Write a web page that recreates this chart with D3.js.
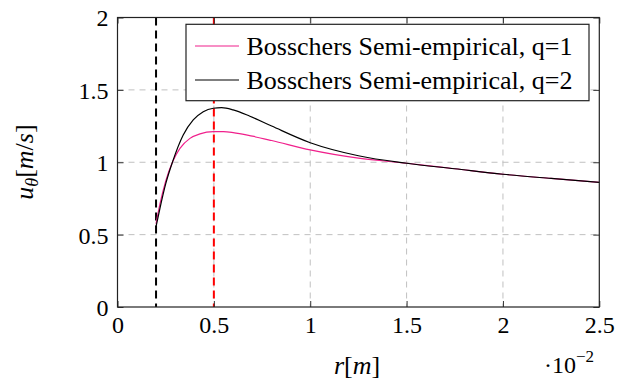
<!DOCTYPE html>
<html>
<head>
<meta charset="utf-8">
<script src="https://cdn.jsdelivr.net/npm/d3@7"></script>
<style>
  html, body { margin: 0; padding: 0; background: #fff; }
  svg { display: block; }
  text { font-family: "Liberation Serif", "Times New Roman", "DejaVu Serif", serif; fill: #000; }
</style>
</head>
<body>
<svg id="chart" width="617" height="380"></svg>
<script>
// Radius samples [m] and tangential velocity [m/s] for both model variants
const rQ1 = [0.0020, 0.0022, 0.0025, 0.00286, 0.00324, 0.00376, 0.00428, 0.00497, 0.0055, 0.0060, 0.0070, 0.0080, 0.0100, 0.0125, 0.0150, 0.0175, 0.0200, 0.0225, 0.0250];
const uQ1 = [0.575, 0.71, 0.87, 1.004, 1.096, 1.165, 1.196, 1.211, 1.211, 1.205, 1.180, 1.150, 1.085, 1.028, 0.993, 0.955, 0.917, 0.888, 0.861];

const rQ2 = [0.0020, 0.0022, 0.0025, 0.00286, 0.00341, 0.00393, 0.00445, 0.00497, 0.0054, 0.0060, 0.00687, 0.0080, 0.0100, 0.0125, 0.0150, 0.0175, 0.0200, 0.0225, 0.0250];
const uQ2 = [0.555, 0.68, 0.85, 1.004, 1.188, 1.292, 1.349, 1.373, 1.377, 1.362, 1.318, 1.250, 1.135, 1.045, 0.993, 0.955, 0.917, 0.888, 0.861];

// Reference radii marked with vertical dashed lines
const markerR = [0.002, 0.005];

const xTicks = [0, 0.005, 0.01, 0.015, 0.02, 0.025];
const xTickLabels = ["0", "0.5", "1", "1.5", "2", "2.5"];
const yTicks = [0, 0.5, 1, 1.5, 2];
const yTickLabels = ["0", "0.5", "1", "1.5", "2"];

const seriesNames = ["Bosschers Semi-empirical, q=1", "Bosschers Semi-empirical, q=2"];
const seriesColors = ["#f0208c", "#000000"];

const svg = d3.select("#chart");
const pL = 117.5, pR = 599.3, pT = 17.5, pB = 307;
const fontTick = 24;

const x = d3.scaleLinear().domain([0, 0.025]).range([pL, pR]);
const y = d3.scaleLinear().domain([0, 2]).range([pB, pT]);

// Grid
const grid = svg.append("g").attr("stroke", "#c0c0c0").attr("stroke-width", 1)
  .attr("stroke-dasharray", "6,5").attr("fill", "none");
grid.selectAll("line.gx").data(xTicks.slice(1, -1)).join("line").attr("class", "gx")
  .attr("x1", d => x(d)).attr("x2", d => x(d)).attr("y1", pT).attr("y2", pB);
grid.selectAll("line.gy").data(yTicks.slice(1, -1)).join("line").attr("class", "gy")
  .attr("x1", pL).attr("x2", pR).attr("y1", d => y(d)).attr("y2", d => y(d));

// Vertical dashed markers
const markerColors = ["#000000", "#ff0000"];
svg.append("g").selectAll("line").data(markerR).join("line")
  .attr("x1", d => x(d)).attr("x2", d => x(d)).attr("y1", pT).attr("y2", pB)
  .attr("stroke", (d, i) => markerColors[i]).attr("stroke-width", 2)
  .attr("stroke-dasharray", "8,5");

// Curves
const line = d3.line().x(d => x(d[0])).y(d => y(d[1])).curve(d3.curveMonotoneX);
const series = [d3.zip(rQ1, uQ1), d3.zip(rQ2, uQ2)];
svg.append("g").selectAll("path").data(series).join("path")
  .attr("d", line).attr("fill", "none")
  .attr("stroke", (d, i) => seriesColors[i]).attr("stroke-width", 1.2);

// Axes with inward ticks on all sides
const tl = 6;
const fmtX = (d, i) => xTickLabels[i];
const fmtY = (d, i) => yTickLabels[i];
const gB = svg.append("g").attr("transform", `translate(0,${pB})`)
  .call(d3.axisBottom(x).tickValues(xTicks).tickFormat(fmtX).tickSize(-tl).tickPadding(9));
const gT = svg.append("g").attr("transform", `translate(0,${pT})`)
  .call(d3.axisTop(x).tickValues(xTicks).tickFormat("").tickSize(-tl));
const gL = svg.append("g").attr("transform", `translate(${pL},0)`)
  .call(d3.axisLeft(y).tickValues(yTicks).tickFormat(fmtY).tickSize(-tl).tickPadding(9));
const gR = svg.append("g").attr("transform", `translate(${pR},0)`)
  .call(d3.axisRight(y).tickValues(yTicks).tickFormat("").tickSize(-tl));
[gB, gT, gL, gR].forEach(g => {
  g.attr("font-family", null).attr("font-size", null);
  g.select(".domain").remove();
  g.selectAll(".tick line").attr("stroke", "#333").attr("stroke-width", 1);
  g.selectAll("text").attr("font-size", fontTick).attr("fill", "#000");
});
gL.selectAll(".tick text").attr("dy", "0.35em");

// Frame
svg.append("rect").attr("x", pL).attr("y", pT)
  .attr("width", pR - pL).attr("height", pB - pT)
  .attr("fill", "none").attr("stroke", "#222").attr("stroke-width", 1.2);

// Legend
const lg = svg.append("g");
lg.append("rect").attr("x", 186).attr("y", 24.3).attr("width", 403).attr("height", 76.4)
  .attr("fill", "#fff").attr("stroke", "#222").attr("stroke-width", 1.2);
seriesNames.forEach((name, i) => {
  const cy = 46 + i * 34;
  lg.append("line").attr("x1", 195).attr("x2", 239).attr("y1", cy).attr("y2", cy)
    .attr("stroke", seriesColors[i]).attr("stroke-width", 1.2);
  lg.append("text").attr("x", 246.5).attr("y", cy + 8.5).attr("font-size", 26).text(name);
});

// Axis labels
const yl = svg.append("text").attr("transform", "translate(33,162) rotate(-90)")
  .attr("text-anchor", "middle").attr("font-size", 26);
yl.append("tspan").attr("font-style", "italic").text("u");
yl.append("tspan").attr("font-style", "italic").attr("font-size", 18).attr("dy", 5).text("θ");
yl.append("tspan").attr("dy", -5).text("[");
yl.append("tspan").attr("font-style", "italic").text("m");
yl.append("tspan").text("/");
yl.append("tspan").attr("font-style", "italic").text("s");
yl.append("tspan").text("]");

const xl = svg.append("text").attr("x", 357).attr("y", 374)
  .attr("text-anchor", "middle").attr("font-size", 26);
xl.append("tspan").attr("font-style", "italic").text("r");
xl.append("tspan").text("[");
xl.append("tspan").attr("font-style", "italic").text("m");
xl.append("tspan").text("]");

const ex = svg.append("text").attr("x", 544).attr("y", 373).attr("font-size", 24);
ex.append("tspan").text("·10");
ex.append("tspan").attr("font-size", 17).attr("dy", -11).text("−2");
</script>
</body>
</html>
